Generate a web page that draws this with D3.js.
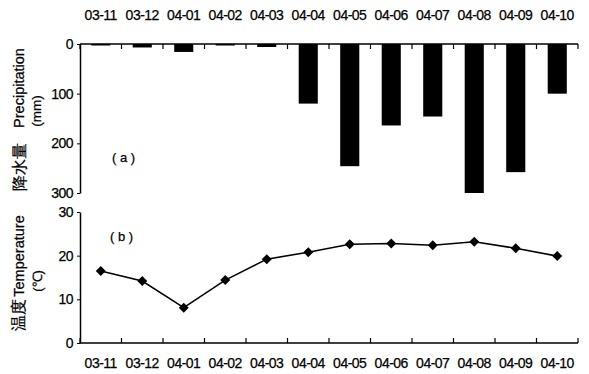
<!DOCTYPE html>
<html><head><meta charset="utf-8">
<script src="https://cdn.jsdelivr.net/npm/d3@7"></script>
<style>body{margin:0;background:#fff}text{font-family:"Liberation Sans",Arial,sans-serif;fill:#000;stroke:#000;stroke-width:0.25px}</style>
</head><body>
<svg id="c" width="589" height="374"></svg>
<script>
const categories = ["03-11","03-12","04-01","04-02","04-03","04-04","04-05","04-06","04-07","04-08","04-09","04-10"];
const precipitation = [3,7,16,3,6,120,246,164,146,300,258,100];
const temperature = [16.5,14.2,8.1,14.4,19.2,20.8,22.6,22.8,22.4,23.2,21.7,19.9];
const precipTicks = [0,100,200,300];
const tempTicks = [0,10,20,30];

const svg = d3.select("#c");
const x = d3.scaleBand().domain(categories).range([80,578]);
const yP = d3.scaleLinear().domain([0,300]).range([44,193]);
const yT = d3.scaleLinear().domain([0,30]).range([343,212]);
const fs = 14;

// Top panel
const gTop = svg.append("g");
gTop.selectAll("rect").data(categories).join("rect")
  .attr("x", d => x(d) + x.bandwidth()*0.27)
  .attr("width", x.bandwidth()*0.46)
  .attr("y", yP(0))
  .attr("height", (d,i) => yP(precipitation[i]) - yP(0))
  .attr("fill","#000");
gTop.append("line").attr("x1",80).attr("x2",578).attr("y1",yP(0)).attr("y2",yP(0)).attr("stroke","#000").attr("stroke-width",1.5);
const bounds = categories.map(c => x(c)).concat([x.range()[1]]);
gTop.selectAll("line.xt").data(bounds).join("line").attr("class","xt")
  .attr("x1",d=>d).attr("x2",d=>d).attr("y1",yP(0)).attr("y2",yP(0)+5).attr("stroke","#000").attr("stroke-width",1.2);
gTop.selectAll("text.xl").data(categories).join("text").attr("class","xl")
  .attr("x", d => x(d)+x.bandwidth()/2).attr("y",15).attr("dy","0.35em")
  .attr("text-anchor","middle").attr("font-size",fs).attr("letter-spacing","-0.5").text(d=>d);
const axP = d3.axisLeft(yP).tickValues(precipTicks).tickSize(3).tickSizeOuter(0);
const gyP = gTop.append("g").attr("transform","translate(80,0)").call(axP);
gyP.select(".domain").attr("stroke-width",1.5);
gyP.selectAll("text").attr("font-size",fs).attr("font-family","Liberation Sans, Arial, sans-serif").attr("letter-spacing","-0.5").attr("x",-7);
gTop.append("text").attr("x",112).attr("y",157).attr("dy","0.35em").attr("font-size",13).text("( a )");

// Bottom panel
const gB = svg.append("g");
gB.append("line").attr("x1",80).attr("x2",578).attr("y1",yT(0)).attr("y2",yT(0)).attr("stroke","#000").attr("stroke-width",1.5);
gB.selectAll("line.xt").data(bounds).join("line").attr("class","xt")
  .attr("x1",d=>d).attr("x2",d=>d).attr("y1",yT(0)).attr("y2",yT(0)-5).attr("stroke","#000").attr("stroke-width",1.2);
gB.selectAll("text.xl").data(categories).join("text").attr("class","xl")
  .attr("x", d => x(d)+x.bandwidth()/2).attr("y",363).attr("dy","0.35em")
  .attr("text-anchor","middle").attr("font-size",fs).attr("letter-spacing","-0.5").text(d=>d);
const axT = d3.axisLeft(yT).tickValues(tempTicks).tickSize(3).tickSizeOuter(0);
const gyT = gB.append("g").attr("transform","translate(80,0)").call(axT);
gyT.select(".domain").attr("stroke-width",1.5);
gyT.selectAll("text").attr("font-size",fs).attr("font-family","Liberation Sans, Arial, sans-serif").attr("letter-spacing","-0.5").attr("x",-7);
const line = d3.line().x((d,i)=>x(categories[i])+x.bandwidth()/2).y(d=>yT(d));
gB.append("path").datum(temperature).attr("d",line).attr("fill","none").attr("stroke","#000").attr("stroke-width",1.6);
gB.selectAll("path.m").data(temperature).join("path").attr("class","m")
  .attr("d", d3.symbol().type(d3.symbolSquare).size(50))
  .attr("transform",(d,i)=>`translate(${x(categories[i])+x.bandwidth()/2},${yT(d)}) rotate(45)`)
  .attr("fill","#000");
gB.append("text").attr("x",110).attr("y",236).attr("dy","0.35em").attr("font-size",13).text("( b )");

function vt(txt, cx, cy, size, fam){
  svg.append("text").attr("transform",`translate(${cx},${cy}) rotate(-90)`)
    .attr("text-anchor","middle").attr("dy","0.35em").attr("font-size",size)
    .attr("font-family",fam||"Liberation Sans, Arial, sans-serif").text(txt);
}
vt("Precipitation",19,88,14.5);
vt("降水量",19,167,16,"Noto Sans CJK SC");
vt("(mm)",36,111,13.5);
vt("Temperature",19,256,14.5);
vt("温度",19,315,15.5,"Noto Sans CJK SC");
vt("(℃)",37,281,13);
</script>
</body></html>
